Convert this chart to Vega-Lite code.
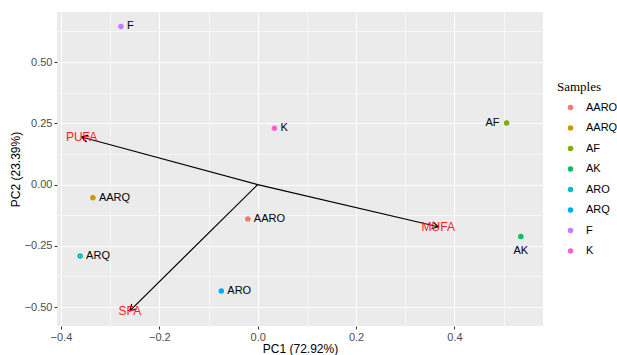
{
  "$schema": "https://vega.github.io/schema/vega-lite/v6.json",
  "width": 486,
  "height": 314,
  "autosize": {"type": "none"},
  "padding": {"left": 57, "top": 12, "right": 74, "bottom": 29},
  "background": "white",
  "view": {"fill": "#EBEBEB", "stroke": null},
  "config": {
    "font": "Liberation Sans",
    "axis": {
      "domain": false,
      "gridColor": "white",
      "tickColor": "#333333",
      "tickSize": 3,
      "labelColor": "#4D4D4D",
      "labelFontSize": 11,
      "labelFont": "Liberation Sans",
      "titleFont": "Liberation Sans",
      "titleFontSize": 12,
      "titleFontWeight": "normal",
      "titleColor": "black"
    }
  },
  "datasets": {
    "scores": [
      {"PC1": -0.278, "PC2": 0.645, "label": "F", "Samples": "F"},
      {"PC1": 0.034, "PC2": 0.230, "label": "K", "Samples": "K"},
      {"PC1": 0.506, "PC2": 0.251, "label": "AF", "Samples": "AF"},
      {"PC1": 0.535, "PC2": -0.212, "label": "AK", "Samples": "AK"},
      {"PC1": -0.335, "PC2": -0.054, "label": "AARQ", "Samples": "AARQ"},
      {"PC1": -0.020, "PC2": -0.140, "label": "AARO", "Samples": "AARO"},
      {"PC1": -0.361, "PC2": -0.291, "label": "ARQ", "Samples": "ARO"},
      {"PC1": -0.074, "PC2": -0.434, "label": "ARO", "Samples": "ARQ"}
    ],
    "loadings": [
      {"var": "PUFA", "PC1": -0.358, "PC2": 0.194},
      {"var": "MUFA", "PC1": 0.367, "PC2": -0.172},
      {"var": "SFA", "PC1": -0.260, "PC2": -0.515}
    ]
  },
  "encoding": {
    "x": {
      "field": "PC1", "type": "quantitative",
      "scale": {"domain": [-0.408, 0.58], "nice": false, "zero": false},
      "axis": {
        "title": "PC1 (72.92%)",
        "values": [-0.4, -0.3, -0.2, -0.1, 0, 0.1, 0.2, 0.3, 0.4, 0.5],
        "format": ".1f",
        "labelExpr": "abs(round(datum.value*10))%2==1 ? '' : datum.label",
        "gridWidth": {"condition": {"test": "abs(round(datum.value*10))%2==1", "value": 0.55}, "value": 1.1},
        "tickOpacity": {"condition": {"test": "abs(round(datum.value*10))%2==1", "value": 0}, "value": 1},
        "labelPadding": 2,
        "titlePadding": 1
      }
    },
    "y": {
      "field": "PC2", "type": "quantitative",
      "scale": {"domain": [-0.577, 0.704], "nice": false, "zero": false},
      "axis": {
        "title": "PC2 (23.39%)",
        "values": [-0.5, -0.375, -0.25, -0.125, 0, 0.125, 0.25, 0.375, 0.5, 0.625],
        "format": ".2f",
        "labelExpr": "abs(round(datum.value*8))%2==1 ? '' : datum.label",
        "gridWidth": {"condition": {"test": "abs(round(datum.value*8))%2==1", "value": 0.55}, "value": 1.1},
        "tickOpacity": {"condition": {"test": "abs(round(datum.value*8))%2==1", "value": 0}, "value": 1},
        "labelPadding": 2,
        "titlePadding": 2
      }
    }
  },
  "layer": [
    {
      "data": {"name": "scores"},
      "mark": {"type": "point", "filled": true, "opacity": 1, "size": 30},
      "encoding": {
        "color": {
          "field": "Samples", "type": "nominal",
          "scale": {
            "domain": ["AARO", "AARQ", "AF", "AK", "ARO", "ARQ", "F", "K"],
            "range": ["#F8766D", "#CD9600", "#7CAE00", "#00BE67", "#00BFC4", "#00A9FF", "#C77CFF", "#FF61CC"]
          },
          "legend": {
            "title": "Samples",
            "orient": "none",
            "legendX": 500,
            "legendY": 69,
            "titleFont": "Liberation Serif",
            "titleFontSize": 13,
            "titleFontWeight": "normal",
            "titleColor": "black",
            "titlePadding": 8,
            "labelFont": "Liberation Sans",
            "labelFontSize": 11,
            "labelColor": "black",
            "symbolType": "circle",
            "symbolSize": 30,
            "rowPadding": 8.5,
            "labelOffset": 10,
            "symbolOffset": 8
          }
        }
      }
    },
    {
      "data": {"name": "scores"},
      "transform": [{"filter": "datum.label != 'AF' && datum.label != 'AK'"}],
      "mark": {"type": "text", "align": "left", "baseline": "middle", "dx": 6, "fontSize": 11, "color": "black"},
      "encoding": {"text": {"field": "label"}}
    },
    {
      "data": {"name": "scores"},
      "transform": [{"filter": "datum.label == 'AF'"}],
      "mark": {"type": "text", "align": "right", "baseline": "middle", "dx": -7, "fontSize": 11, "color": "black"},
      "encoding": {"text": {"field": "label"}}
    },
    {
      "data": {"name": "scores"},
      "transform": [{"filter": "datum.label == 'AK'"}],
      "mark": {"type": "text", "align": "center", "baseline": "middle", "dy": 14, "fontSize": 11, "color": "black"},
      "encoding": {"text": {"field": "label"}}
    },
    {
      "data": {"name": "loadings"},
      "mark": {"type": "rule", "color": "black", "strokeWidth": 1.2},
      "encoding": {
        "x2": {"datum": 0},
        "y2": {"datum": 0}
      }
    },
    {
      "data": {"name": "loadings"},
      "transform": [{"calculate": "atan2(-datum.PC2*314/1.281, datum.PC1*486/0.988)*180/PI", "as": "ang"}],
      "mark": {"type": "point", "shape": "M-1,-0.577L0,0L-1,0.577", "filled": false, "stroke": "black", "strokeWidth": 1.2, "size": 150, "opacity": 1},
      "encoding": {"angle": {"field": "ang", "type": "quantitative", "scale": null}}
    },
    {
      "data": {"name": "loadings"},
      "mark": {"type": "text", "align": "center", "baseline": "middle", "fontSize": 12, "color": "#FF1A1A"},
      "encoding": {"text": {"field": "var"}}
    }
  ]
}
